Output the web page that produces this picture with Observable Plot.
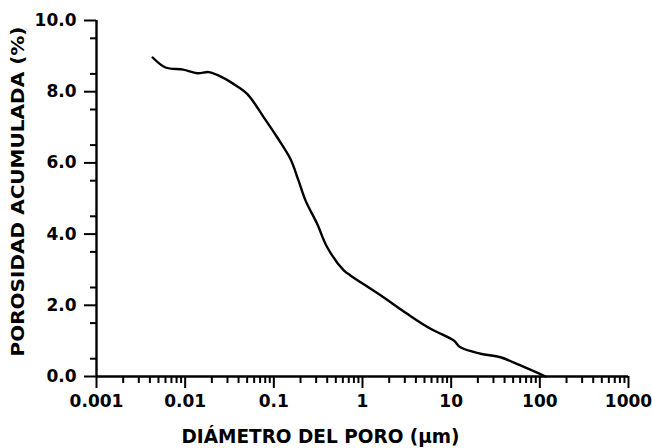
<!DOCTYPE html>
<html>
<head>
<meta charset="utf-8">
<script src="https://cdn.jsdelivr.net/npm/d3@7"></script>
<script src="https://cdn.jsdelivr.net/npm/@observablehq/plot@0.6"></script>
<style>
  html, body { margin: 0; padding: 0; background: #fff; }
  #chart svg { display: block; background: #fff; }
  #chart svg text { fill: #000; }
  #chart g[aria-label="x-axis tick"], #chart g[aria-label="y-axis tick"] { stroke-width: 2px; stroke: #000; }
  .ticklab text { font-family: "DejaVu Sans", sans-serif; font-weight: bold; font-size: 17px; }
  .title text { font-family: "DejaVu Sans Condensed", "Liberation Sans Narrow", "Roboto", sans-serif; font-weight: bold; font-size: 19px; }
</style>
</head>
<body>
<div id="chart"></div>
<script>
// Pore diameter (µm) and cumulative porosity (%)
const diameter = [0.0043, 0.006, 0.0095, 0.0137, 0.0185, 0.023, 0.035, 0.050, 0.077, 0.109, 0.154, 0.19, 0.228, 0.308, 0.40, 0.615, 0.73, 1.6, 3.19, 5.85, 10.7, 12.7, 21.4, 36, 60.5, 116];
const porosity = [8.96, 8.68, 8.62, 8.52, 8.55, 8.47, 8.22, 7.94, 7.28, 6.72, 6.11, 5.5, 4.94, 4.29, 3.63, 2.98, 2.84, 2.28, 1.76, 1.34, 1.01, 0.82, 0.64, 0.54, 0.31, 0.0];

const xMajor = [0.001, 0.01, 0.1, 1, 10, 100, 1000];
const xMajorLabels = ["0.001", "0.01", "0.1", "1", "10", "100", "1000"];
const yMajor = [0, 2, 4, 6, 8, 10];
const yMajorLabels = ["0.0", "2.0", "4.0", "6.0", "8.0", "10.0"];
const xTitle = "DIÁMETRO DEL PORO (µm)";
const yTitle = "POROSIDAD ACUMULADA (%)";

const xMinor = [];
for (const d of xMajor.slice(0, -1)) for (let k = 2; k <= 9; k++) xMinor.push(d * k);
const yMinor = d3.range(0.5, 10, 1);

const data = diameter.map((d, i) => ({d, p: porosity[i]}));

const chart = Plot.plot({
  width: 652,
  height: 448,
  marginLeft: 96,
  marginRight: 24,
  marginTop: 20,
  marginBottom: 72,
  x: {type: "log", domain: [0.001, 1000]},
  y: {domain: [0, 10]},
  marks: [
    Plot.axisX({ticks: xMinor, tickSize: 7, tickFormat: () => "", label: null, strokeWidth: 2}),
    Plot.axisX({ticks: xMajor, tickSize: 12, tickPadding: 6, tickFormat: (d) => xMajorLabels[xMajor.indexOf(d)], label: null, strokeWidth: 2, className: "ticklab"}),
    Plot.axisY({ticks: yMinor, tickSize: 6, tickFormat: () => "", label: null, strokeWidth: 2}),
    Plot.axisY({ticks: yMajor, tickSize: 12, tickPadding: 8, tickFormat: (d) => yMajorLabels[yMajor.indexOf(d)], label: null, strokeWidth: 2, className: "ticklab"}),
    Plot.ruleX([0.001], {y1: 0, y2: 10, strokeWidth: 2.4}),
    Plot.ruleY([0], {x1: 0.001, x2: 1000, strokeWidth: 2.4}),
    Plot.line(data, {x: "d", y: "p", stroke: "#000", strokeWidth: 2.4, curve: "catmull-rom"}),
    Plot.text([xTitle], {frameAnchor: "bottom", textAnchor: "middle", lineAnchor: "bottom", dy: 66, dx: -42, className: "title xtitle", text: d => d}),
    Plot.text([yTitle], {frameAnchor: "left", textAnchor: "middle", lineAnchor: "middle", rotate: -90, dx: -78, dy: -7, className: "title ytitle", text: d => d})
  ]
});
// fit the condensed titles to the widths seen in the reference
chart.querySelectorAll(".xtitle text").forEach(t => { t.setAttribute("textLength", 278); t.setAttribute("lengthAdjust", "spacingAndGlyphs"); });
chart.querySelectorAll(".ytitle text").forEach(t => { t.setAttribute("textLength", 330); t.setAttribute("lengthAdjust", "spacingAndGlyphs"); t.style.fontSize = "17px"; });
document.getElementById("chart").appendChild(chart);
</script>
</body>
</html>
